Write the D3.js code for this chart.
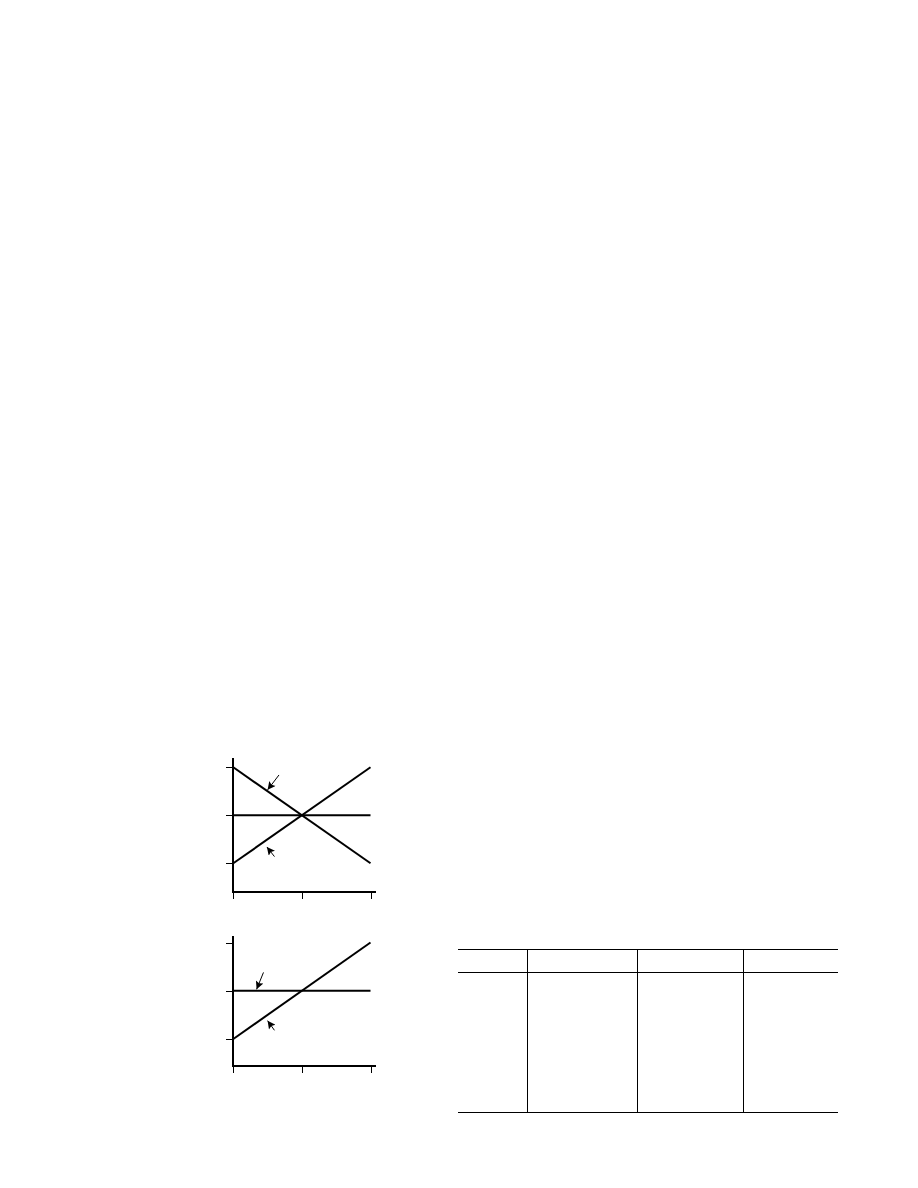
<!DOCTYPE html>
<html lang="en">
<head>
  <meta charset="UTF-8" />
  <title>Line diagrams and table</title>
  <script src="https://d3js.org/d3.v7.min.js"></script>
  <style>
    body { margin: 0; background: #fff; }
    svg { display: block; }
    .axis-line { stroke: #000; stroke-width: 2px; shape-rendering: crispEdges; }
    .tick line { stroke: #000; stroke-width: 1px; shape-rendering: crispEdges; }
    .series { fill: none; stroke: #000; stroke-width: 2px; }
    .pointer { stroke: #000; stroke-width: 1px; }
    .rule { stroke: #000; stroke-width: 1.2px; shape-rendering: crispEdges; }
  </style>
</head>
<body>
  <svg id="chart" width="918" height="1188"></svg>

  <script>
    // shared axis values
    const xTicks = [0, 1, 2];
    const yTicks = [-1, 0, 1];
    const lineX = [0, 2];

    // upper diagram
    const upperFalling = [1, -1];
    const upperRising = [-1, 1];
    const upperFlat = [0, 0];
    const upperArrows = [
      { from: [0.666, 0.84], to: [0.50, 0.53] },
      { from: [0.60, -0.86], to: [0.49, -0.66] }
    ];

    // lower diagram
    const lowerRising = [-1, 1];
    const lowerFlat = [0, 0];
    const lowerArrows = [
      { from: [0.44, 0.38], to: [0.34, 0.03] },
      { from: [0.60, -0.82], to: [0.50, -0.62] }
    ];

    // table: four empty columns, relative widths
    const tableColumns = ["", "", "", ""];
    const columnWidths = [69, 110, 106, 94.4];

    const svg = d3.select("#chart");

    svg.append("defs").append("marker")
      .attr("id", "head")
      .attr("viewBox", "0 0 10 10")
      .attr("refX", 10)
      .attr("refY", 5)
      .attr("markerUnits", "userSpaceOnUse")
      .attr("markerWidth", 10)
      .attr("markerHeight", 8)
      .attr("orient", "auto")
      .append("path")
      .attr("d", "M0,0 L10,5 L0,10 L2,5 Z")
      .attr("fill", "#000");

    function drawPanel(p) {
      const x = d3.scaleLinear().domain([0, 2]).range([233.3, 370.5]);
      const y = d3.scaleLinear().domain([-1, 1]).range([p.yBottom, p.yTop]);
      const g = svg.append("g");

      // axis spines
      g.append("line").attr("class", "axis-line")
        .attr("x1", x(0)).attr("x2", x(0))
        .attr("y1", y(p.yMax)).attr("y2", y(p.yMin));
      g.append("line").attr("class", "axis-line")
        .attr("x1", x(0) - 1).attr("x2", x(2.08))
        .attr("y1", y(p.yMin)).attr("y2", y(p.yMin));

      // ticks, no labels
      g.append("g")
        .attr("transform", `translate(${x(0)},0)`)
        .call(d3.axisLeft(y).tickValues(yTicks).tickSize(7).tickFormat(""))
        .call(a => a.select(".domain").remove());
      g.append("g")
        .attr("transform", `translate(0,${y(p.yMin)})`)
        .call(d3.axisBottom(x).tickValues(xTicks).tickSize(7).tickFormat(""))
        .call(a => a.select(".domain").remove());

      const line = d3.line()
        .x((d, i) => x(lineX[i]))
        .y(d => y(d));

      g.selectAll("path.series")
        .data(p.series)
        .enter()
        .append("path")
        .attr("class", "series")
        .attr("d", d => line(d));

      g.selectAll("line.pointer")
        .data(p.arrows)
        .enter()
        .append("line")
        .attr("class", "pointer")
        .attr("x1", d => x(d.from[0]))
        .attr("y1", d => y(d.from[1]))
        .attr("x2", d => x(d.to[0]))
        .attr("y2", d => y(d.to[1]))
        .attr("marker-end", "url(#head)");
    }

    drawPanel({
      yTop: 767.3, yBottom: 863.3, yMin: -1.6, yMax: 1.2,
      series: [upperFalling, upperRising, upperFlat],
      arrows: upperArrows
    });

    drawPanel({
      yTop: 942.5, yBottom: 1039, yMin: -1.55, yMax: 1.13,
      series: [lowerRising, lowerFlat],
      arrows: lowerArrows
    });

    // Table frame
    const edges = [0].concat(Array.from(d3.cumsum(columnWidths)));
    const total = d3.sum(columnWidths);
    const tx = d3.scaleLinear().domain([0, total]).range([458.3, 837.7]);
    const rowTop = 949.3, headBottom = 972.3, rowBottom = 1112.3;
    const table = svg.append("g");

    [rowTop, headBottom, rowBottom].forEach(yy => {
      table.append("line").attr("class", "rule")
        .attr("x1", tx(0)).attr("x2", tx(total))
        .attr("y1", yy).attr("y2", yy);
    });

    table.selectAll("line.col")
      .data(edges.slice(1, -1))
      .enter()
      .append("line")
      .attr("class", "rule col")
      .attr("x1", d => tx(d)).attr("x2", d => tx(d))
      .attr("y1", rowTop).attr("y2", rowBottom);

    table.selectAll("text.head")
      .data(tableColumns)
      .enter()
      .append("text")
      .attr("class", "head")
      .attr("x", (d, i) => (tx(edges[i]) + tx(edges[i + 1])) / 2)
      .attr("y", (rowTop + headBottom) / 2 + 4)
      .attr("text-anchor", "middle")
      .style("font-family", "Liberation Serif")
      .style("font-size", "12px")
      .text(d => d);
  </script>
</body>
</html>
